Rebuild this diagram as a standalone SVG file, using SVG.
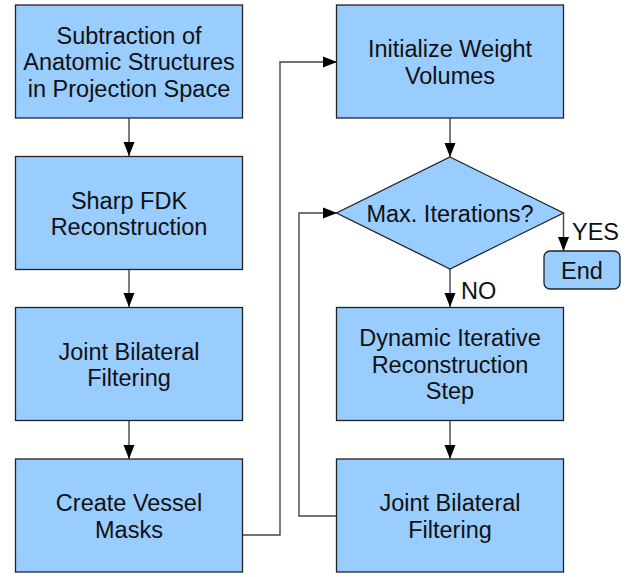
<svg xmlns="http://www.w3.org/2000/svg" width="638" height="577" viewBox="0 0 638 577">
<style>
.box{fill:#99ccff;stroke:#222;stroke-width:1.3}
.t{font-family:"Liberation Sans",Arial,sans-serif;font-size:23.5px;fill:#111;text-anchor:middle}
.lbl{font-family:"Liberation Sans",Arial,sans-serif;font-size:23.5px;fill:#111}
.c{fill:none;stroke:#444;stroke-width:1.4}
</style>
<defs>
<marker id="ah" markerWidth="14" markerHeight="12" refX="14" refY="6" orient="auto" markerUnits="userSpaceOnUse">
<path d="M0,0.5 L14,6 L0,11.5 Z" fill="#000"/>
</marker>
</defs>
<rect width="638" height="577" fill="#fff"/>
<g id="connectors">
<line class="c" x1="129" y1="118" x2="129" y2="156" marker-end="url(#ah)"/>
<line class="c" x1="129" y1="270" x2="129" y2="307" marker-end="url(#ah)"/>
<line class="c" x1="129" y1="421" x2="129" y2="459" marker-end="url(#ah)"/>
<polyline class="c" points="242,535 280,535 280,62 337,62" marker-end="url(#ah)"/>
<line class="c" x1="450" y1="118" x2="450" y2="157" marker-end="url(#ah)"/>
<line class="c" x1="563.5" y1="213" x2="563.5" y2="251" marker-end="url(#ah)"/>
<line class="c" x1="450" y1="269" x2="450" y2="307" marker-end="url(#ah)"/>
<line class="c" x1="450" y1="421" x2="450" y2="459" marker-end="url(#ah)"/>
<polyline class="c" points="337,516 299,516 299,213 337,213" marker-end="url(#ah)"/>
<text class="lbl" x="572" y="240">YES</text>
<text class="lbl" x="461" y="299">NO</text>
</g>
<g id="subtraction">
<rect class="box" x="15.5" y="5" width="227" height="113"/>
<text class="t" x="129" y="43.5">Subtraction of</text>
<text class="t" x="129" y="70">Anatomic Structures</text>
<text class="t" x="129" y="96.5">in Projection Space</text>
</g>
<g id="fdk">
<rect class="box" x="15.5" y="156.5" width="227" height="113"/>
<text class="t" x="129" y="208.5">Sharp FDK</text>
<text class="t" x="129" y="235">Reconstruction</text>
</g>
<g id="jbf1">
<rect class="box" x="15.5" y="307.5" width="227" height="113"/>
<text class="t" x="129" y="359.5">Joint Bilateral</text>
<text class="t" x="129" y="386">Filtering</text>
</g>
<g id="masks">
<rect class="box" x="15.5" y="459" width="227" height="113"/>
<text class="t" x="129" y="511">Create Vessel</text>
<text class="t" x="129" y="537.5">Masks</text>
</g>
<g id="init">
<rect class="box" x="336.5" y="5" width="227" height="113"/>
<text class="t" x="450" y="57">Initialize Weight</text>
<text class="t" x="450" y="83.5">Volumes</text>
</g>
<g id="decision">
<polygon class="box" points="450,157 563.5,213 450,269 336.5,213"/>
<text class="t" x="450" y="221.5">Max. Iterations?</text>
</g>
<g id="end">
<rect class="box" x="544" y="251" width="76" height="38" rx="6"/>
<text class="t" x="582" y="278.5">End</text>
</g>
<g id="dynamic">
<rect class="box" x="336.5" y="307.5" width="227" height="113"/>
<text class="t" x="450" y="346">Dynamic Iterative</text>
<text class="t" x="450" y="372.5">Reconstruction</text>
<text class="t" x="450" y="399">Step</text>
</g>
<g id="jbf2">
<rect class="box" x="336.5" y="459" width="227" height="113"/>
<text class="t" x="450" y="511">Joint Bilateral</text>
<text class="t" x="450" y="537.5">Filtering</text>
</g>
</svg>
